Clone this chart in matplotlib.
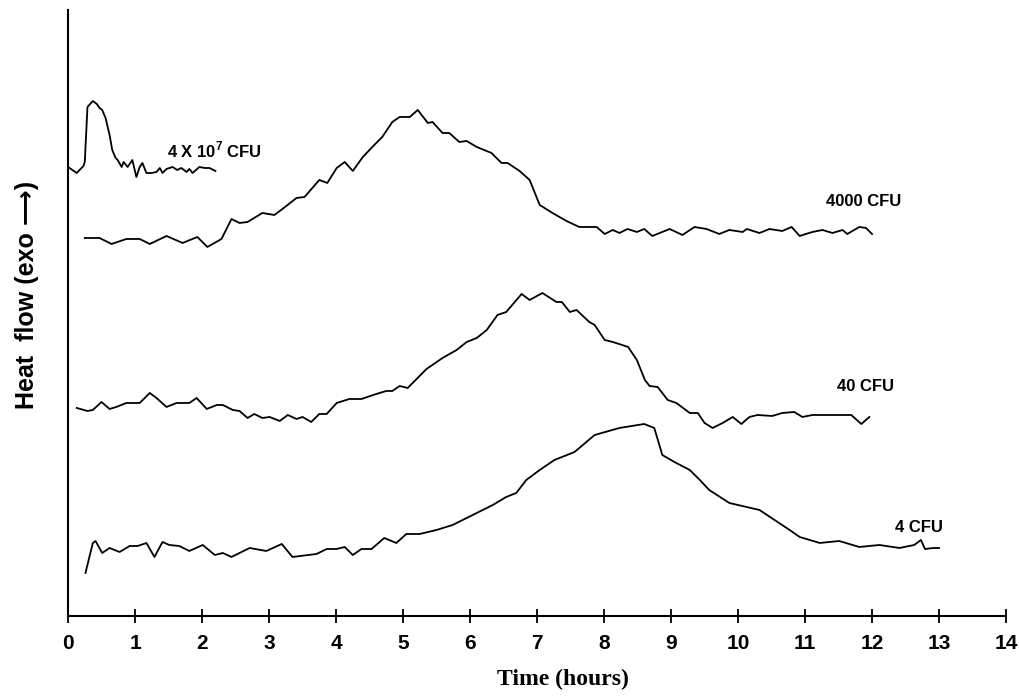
import matplotlib
matplotlib.use('Agg')
import matplotlib.pyplot as plt

plt.rcParams['mathtext.fontset'] = 'custom'
plt.rcParams['mathtext.bf'] = 'Liberation Sans:bold'
plt.rcParams['mathtext.rm'] = 'Liberation Sans:bold'

SANS = ['Liberation Sans', 'DejaVu Sans']
SERIF = ['Liberation Serif', 'DejaVu Serif']

# time in hours, heat flow in arbitrary units (curves are offset vertically)
t_4e7 = [0.0, 0.13, 0.23, 0.25, 0.29, 0.37, 0.43, 0.47, 0.51, 0.56, 0.62, 0.66, 0.71,
         0.74, 0.80, 0.83, 0.89, 0.96, 1.02, 1.07, 1.11, 1.17, 1.25, 1.32, 1.37, 1.41,
         1.47, 1.56, 1.63, 1.69, 1.77, 1.81, 1.86, 1.96, 2.04, 2.11, 2.20]
q_4e7 = [449, 443, 450, 454, 509, 515, 512, 508, 506, 498, 481, 466, 458,
         456, 449, 454, 449, 456, 439, 449, 453, 443, 443, 444, 448, 443,
         447, 449, 446, 448, 444, 447, 443, 449, 448, 448, 445]

t_4000 = [0.25, 0.47, 0.65, 0.87, 1.07, 1.22, 1.47, 1.71, 1.93, 2.08,
          2.29, 2.44, 2.56, 2.68, 2.90, 3.08, 3.20, 3.41, 3.53, 3.75,
          3.87, 4.01, 4.13, 4.25, 4.40, 4.57, 4.69, 4.84, 4.95, 5.10,
          5.22, 5.37, 5.44, 5.59, 5.69, 5.84, 5.95, 6.10, 6.32, 6.47,
          6.56, 6.74, 6.89, 7.04, 7.23, 7.44, 7.63, 7.74, 7.89, 8.01,
          8.13, 8.23, 8.35, 8.49, 8.60, 8.72, 8.98, 9.17, 9.35, 9.53,
          9.72, 9.87, 10.07, 10.13, 10.32, 10.47, 10.66, 10.80, 10.92, 11.11,
          11.26, 11.41, 11.56, 11.63, 11.81, 11.91, 12.0]
q_4000 = [378, 378, 372, 377, 377, 372, 380, 373, 379, 369,
          377, 397, 393, 394, 403, 401, 407, 418, 419, 436,
          433, 448, 454, 445, 459, 471, 479, 494, 499, 499,
          506, 493, 494, 483, 483, 474, 475, 469, 463, 453,
          453, 445, 436, 411, 403, 395, 389, 389, 389, 382,
          386, 383, 387, 384, 387, 380, 387, 381, 389, 387,
          382, 386, 384, 387, 383, 387, 385, 389, 380, 384,
          386, 383, 386, 382, 389, 388, 382]

t_40 = [0.13, 0.29, 0.37, 0.50, 0.62, 0.72, 0.87, 1.07, 1.22, 1.32,
        1.47, 1.62, 1.81, 1.92, 2.07, 2.22, 2.31, 2.46, 2.56, 2.68,
        2.78, 2.90, 3.01, 3.16, 3.28, 3.41, 3.50, 3.63, 3.75, 3.86,
        4.01, 4.20, 4.38, 4.60, 4.75, 4.84, 4.95, 5.07, 5.35, 5.59,
        5.80, 5.95, 6.10, 6.25, 6.41, 6.54, 6.77, 6.89, 7.08, 7.29,
        7.37, 7.49, 7.59, 7.78, 7.86, 8.01, 8.13, 8.27, 8.36, 8.49,
        8.61, 8.68, 8.80, 8.95, 9.08, 9.28, 9.40, 9.50, 9.62, 9.77,
        9.92, 10.05, 10.17, 10.29, 10.51, 10.66, 10.84, 10.96, 11.11, 11.41,
        11.69, 11.84, 11.96]
q_40 = [208, 205, 206, 214, 207, 209, 213, 213, 223, 218,
        209, 213, 213, 218, 207, 211, 211, 206, 205, 198,
        202, 198, 199, 195, 201, 197, 199, 194, 202, 202,
        213, 217, 217, 222, 225, 225, 230, 228, 247, 258,
        266, 274, 278, 286, 301, 304, 322, 316, 323, 314,
        314, 304, 306, 294, 291, 276, 274, 271, 269, 256,
        236, 230, 229, 216, 213, 203, 203, 193, 188, 193,
        199, 192, 199, 201, 200, 203, 204, 199, 201, 201,
        201, 192, 199]

t_4 = [0.26, 0.37, 0.41, 0.51, 0.62, 0.77, 0.92, 1.04, 1.17, 1.29,
       1.41, 1.51, 1.66, 1.81, 2.01, 2.19, 2.31, 2.44, 2.71, 2.96,
       3.19, 3.35, 3.71, 3.86, 4.01, 4.13, 4.25, 4.38, 4.53, 4.72,
       4.90, 5.05, 5.25, 5.50, 5.74, 6.04, 6.34, 6.54, 6.69, 6.84,
       7.04, 7.26, 7.56, 7.86, 8.23, 8.60, 8.75, 8.87, 9.05, 9.28,
       9.43, 9.57, 9.87, 10.32, 10.77, 10.92, 11.22, 11.51, 11.81, 12.11,
       12.41, 12.63, 12.73, 12.79, 12.92, 13.0]
q_4 = [43, 73, 75, 63, 68, 64, 70, 70, 73, 59,
       74, 71, 70, 65, 71, 61, 63, 59, 68, 65,
       72, 59, 62, 67, 67, 69, 61, 67, 67, 78,
       73, 82, 82, 86, 91, 101, 111, 119, 123, 136,
       146, 156, 164, 181, 188, 192, 188, 161, 154, 146,
       136, 126, 113, 106, 86, 79, 73, 75, 69, 71,
       68, 71, 76, 67, 68, 68]

series = [(t_4e7, q_4e7), (t_4000, q_4000), (t_40, q_40), (t_4, q_4)]

labels = [r'4 X 10$^{\mathbf{7}}$ CFU', '4000 CFU', '40 CFU', '4 CFU']
label_t = [1.47, 11.32, 11.48, 12.34]
label_q = [466, 414, 229, 88]

x_ticks = list(range(0, 15))


def main():
    fig = plt.figure(figsize=(10.2, 6.98), dpi=100)
    ax = fig.add_axes([0.0667, 0.1175, 0.9196, 0.8682])

    for t, q in series:
        ax.plot(t, q, color='black', linewidth=1.3)

    for text, t, q in zip(labels, label_t, label_q):
        ax.text(t, q, text, family=SANS, fontweight='bold', fontsize=12,
                ha='left', va='center')

    ax.set_xlim(0, 14)
    ax.set_ylim(0, 606)
    ax.set_xticks(x_ticks)
    ax.set_yticks([])
    for side in ('top', 'right'):
        ax.spines[side].set_visible(False)
    for side in ('left', 'bottom'):
        ax.spines[side].set_linewidth(1.5)

    ax.tick_params(axis='x', direction='inout', length=9.5, width=1.3, pad=8)
    for lbl in ax.get_xticklabels():
        lbl.set_family(SANS)
        lbl.set_fontweight('bold')
        lbl.set_fontsize(15)

    ax.set_xlabel('Time (hours)', family=SERIF, fontweight='bold', fontsize=17)
    ax.xaxis.set_label_coords(0.528, -0.087)
    ax.set_ylabel('Heat  flow (exo \u27f6)', family=SANS, fontweight='bold', fontsize=18)
    ax.yaxis.set_label_coords(-0.031, 0.53)

    fig.savefig('out.png', dpi=100)


if __name__ == '__main__':
    main()
